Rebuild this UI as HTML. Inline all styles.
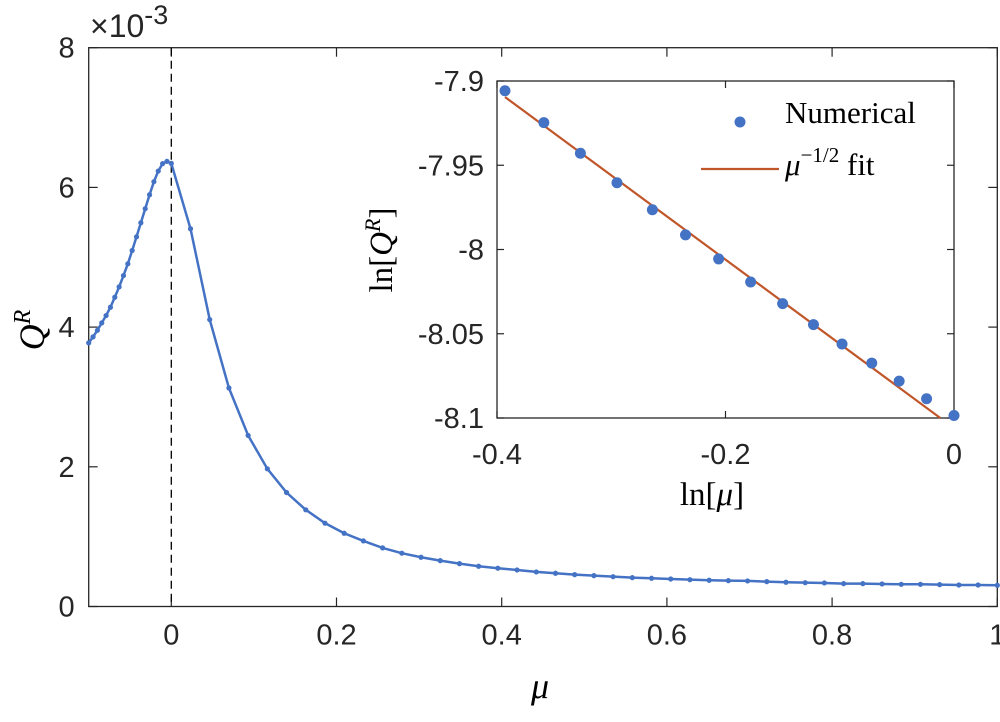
<!DOCTYPE html>
<html><head><meta charset="utf-8"><style>
html,body{margin:0;padding:0;background:#fff;}
svg text{font-family:"Liberation Sans",Arial,sans-serif;fill:#262626;}
.serif{font-family:"Liberation Serif","DejaVu Serif",serif;fill:#000;}
</style></head><body>
<svg id="chart" width="1000" height="717" viewBox="0 0 1000 717" xmlns="http://www.w3.org/2000/svg"></svg>
<script>
// Main chart data (y in units of 1e-3)
const leftX = [-0.1,-0.09474,-0.08947,-0.08421,-0.07895,-0.07368,-0.06842,-0.06316,-0.05789,-0.05263,-0.04737,-0.04211,-0.03684,-0.03158,-0.02632,-0.02105,-0.01579,-0.01053,-0.00526,0];
const leftY = [3.774,3.860,3.954,4.060,4.165,4.284,4.427,4.576,4.738,4.906,5.097,5.293,5.494,5.695,5.895,6.082,6.234,6.340,6.373,6.344];
const rightX = [0.02326,0.04651,0.06977,0.09302,0.11628,0.13953,0.16279,0.18605,0.20930,0.23256,0.25581,0.27907,0.30233,0.32558,0.34884,0.37209,0.39535,0.41860,0.44186,0.46512,0.48837,0.51163,0.53488,0.55814,0.58140,0.60465,0.62791,0.65116,0.67442,0.69767,0.72093,0.74419,0.76744,0.79070,0.81395,0.83721,0.86047,0.88372,0.90698,0.93023,0.95349,0.97674,1.0];
const rightY = [5.408,4.108,3.128,2.449,1.971,1.632,1.384,1.193,1.049,0.939,0.839,0.763,0.705,0.657,0.614,0.576,0.548,0.523,0.495,0.476,0.456,0.442,0.427,0.413,0.404,0.394,0.384,0.376,0.370,0.366,0.356,0.347,0.341,0.337,0.327,0.327,0.323,0.318,0.318,0.313,0.308,0.308,0.304];
const mainXTicks = [0,0.2,0.4,0.6,0.8,1];
const mainXTickLabels = ["0","0.2","0.4","0.6","0.8","1"];
const mainYTicks = [0,2,4,6,8];
const mainYTickLabels = ["0","2","4","6","8"];
// Inset data
const insetX = [-0.393,-0.359,-0.327,-0.295,-0.264,-0.235,-0.206,-0.178,-0.150,-0.123,-0.098,-0.072,-0.048,-0.024,0];
const insetY = [-7.9058,-7.9247,-7.9429,-7.9604,-7.9764,-7.9913,-8.0056,-8.0193,-8.0321,-8.0446,-8.0561,-8.0674,-8.0781,-8.0886,-8.0985];
const fitSlope = [-0.5];
const fitIntercept = [-8.106];
const insetXTicks = [-0.4,-0.2,0];
const insetXTickLabels = ["-0.4","-0.2","0"];
const insetYTicks = [-7.9,-7.95,-8,-8.05,-8.1];
const insetYTickLabels = ["-7.9","-7.95","-8","-8.05","-8.1"];

const NS="http://www.w3.org/2000/svg";
const svg=document.getElementById('chart');
function mk(tag,attrs,parent){const e=document.createElementNS(NS,tag);for(const k in attrs)e.setAttribute(k,attrs[k]);(parent||svg).appendChild(e);return e;}

// main axes
const M={l:88.7,r:997.3,t:47.7,b:606.5,x0:-0.1,x1:1,y0:0,y1:8};
const mx=v=>M.l+(v-M.x0)/(M.x1-M.x0)*(M.r-M.l);
const my=v=>M.b-(v-M.y0)/(M.y1-M.y0)*(M.b-M.t);
const mainG=mk('g',{});


const mbox=mk('rect',{x:M.l,y:M.t,width:M.r-M.l,height:M.b-M.t,fill:'none',stroke:'#262626','stroke-width':1.3},mainG);


mainXTicks.forEach((v,i)=>{
  const x=mx(v);
  mk('line',{x1:x,x2:x,y1:M.b,y2:M.b-9,stroke:'#262626','stroke-width':1.2},mainG);
  mk('line',{x1:x,x2:x,y1:M.t,y2:M.t+9,stroke:'#262626','stroke-width':1.2},mainG);
  const t=mk('text',{x:x,y:M.b+38,'font-size':29,'text-anchor':'middle'},mainG);
  t.textContent=mainXTickLabels[i];
  
  
});
mainYTicks.forEach((v,i)=>{
  const y=my(v);
  mk('line',{x1:M.l,x2:M.l+9,y1:y,y2:y,stroke:'#262626','stroke-width':1.2},mainG);
  mk('line',{x1:M.r,x2:M.r-9,y1:y,y2:y,stroke:'#262626','stroke-width':1.2},mainG);
  const t=mk('text',{x:M.l-14,y:y+10,'font-size':29,'text-anchor':'end'},mainG);
  t.textContent=mainYTickLabels[i];
  
  
});
const expT=mk('text',{x:90,y:37,'font-size':32},mainG);
expT.innerHTML='×10<tspan dy="-13" font-size="27">-3</tspan>';


const vline=mk('line',{x1:mx(0),x2:mx(0),y1:M.t,y2:M.b,stroke:'#000','stroke-width':1.3,'stroke-dasharray':'8,5'},mainG);


const allX=leftX.concat(rightX), allY=leftY.concat(rightY);
const curve=mk('polyline',{points:allX.map((v,i)=>mx(v)+','+my(allY[i])).join(' '),fill:'none',stroke:'#4472c4','stroke-width':2.5},mainG);


allX.forEach((v,i)=>{
  const c=mk('circle',{cx:mx(v),cy:my(allY[i]),r:2.6,fill:'#4472c4'},mainG);
  
  
});
const yl=mk('text',{class:'serif',x:0,y:0,'font-size':36,'font-style':'italic',transform:'translate(44,330) rotate(-90)','text-anchor':'middle'},mainG);
yl.innerHTML='Q<tspan dy="-14" font-size="24">R</tspan>';


const xl=mk('text',{class:'serif',x:540,y:698,'font-size':36,'font-style':'italic','text-anchor':'middle'},mainG);
xl.textContent='μ';



// inset
const I={l:497,r:954,t:81,b:418,x0:-0.4,x1:0,y0:-8.1,y1:-7.9};
const ix=v=>I.l+(v-I.x0)/(I.x1-I.x0)*(I.r-I.l);
const iy=v=>I.b-(v-I.y0)/(I.y1-I.y0)*(I.b-I.t);
const inG=mk('g',{});


mk('rect',{x:I.l,y:I.t,width:I.r-I.l,height:I.b-I.t,fill:'#fff',stroke:'#262626','stroke-width':1.3},inG);
insetXTicks.forEach((v,i)=>{
  const x=ix(v);
  mk('line',{x1:x,x2:x,y1:I.b,y2:I.b-7,stroke:'#262626','stroke-width':1.2},inG);
  mk('line',{x1:x,x2:x,y1:I.t,y2:I.t+7,stroke:'#262626','stroke-width':1.2},inG);
  const t=mk('text',{x:x,y:I.b+46,'font-size':29,'text-anchor':'middle'},inG);
  t.textContent=insetXTickLabels[i];
  
  
});
insetYTicks.forEach((v,i)=>{
  const y=iy(v);
  mk('line',{x1:I.l,x2:I.l+7,y1:y,y2:y,stroke:'#262626','stroke-width':1.2},inG);
  mk('line',{x1:I.r,x2:I.r-7,y1:y,y2:y,stroke:'#262626','stroke-width':1.2},inG);
  const t=mk('text',{x:I.l-13,y:y+10,'font-size':29,'text-anchor':'end'},inG);
  t.textContent=insetYTickLabels[i];
  
  
});
const fx1=insetX[0], fx2=I.x1;
let fy2=fitIntercept[0]+fitSlope[0]*fx2, fxEnd=fx2;
if(fy2<I.y0){fxEnd=(I.y0-fitIntercept[0])/fitSlope[0];fy2=I.y0;}
const fit=mk('line',{x1:ix(fx1),y1:iy(fitIntercept[0]+fitSlope[0]*fx1),x2:ix(fxEnd),y2:iy(fy2),stroke:'#c0562a','stroke-width':2.2},inG);


insetX.forEach((v,i)=>{
  const c=mk('circle',{cx:ix(v),cy:iy(insetY[i]),r:5.5,fill:'#4472c4'},inG);
  
  
});
const lg=mk('g',{},inG);


mk('circle',{cx:740,cy:122,r:5.5,fill:'#4472c4'},lg);
const l1=mk('text',{class:'serif',x:785,y:123,'font-size':31},lg);
l1.textContent='Numerical';


mk('line',{x1:701,x2:779,y1:169,y2:169,stroke:'#c0562a','stroke-width':2.2},lg);
const l2=mk('text',{class:'serif',x:785,y:175,'font-size':31},lg);
l2.innerHTML='<tspan font-style="italic">μ</tspan><tspan dy="-13" font-size="21">−1/2</tspan><tspan dy="13"> fit</tspan>';


const iyl=mk('text',{class:'serif',x:0,y:0,'font-size':33,transform:'translate(392,250) rotate(-90)','text-anchor':'middle'},inG);
iyl.innerHTML='ln[<tspan font-style="italic">Q</tspan><tspan dy="-12" font-size="22" font-style="italic">R</tspan><tspan dy="12">]</tspan>';


const ixl=mk('text',{class:'serif',x:712,y:505,'font-size':33,'text-anchor':'middle'},inG);
ixl.innerHTML='ln[<tspan font-style="italic">μ</tspan>]';


</script>
</body></html>
